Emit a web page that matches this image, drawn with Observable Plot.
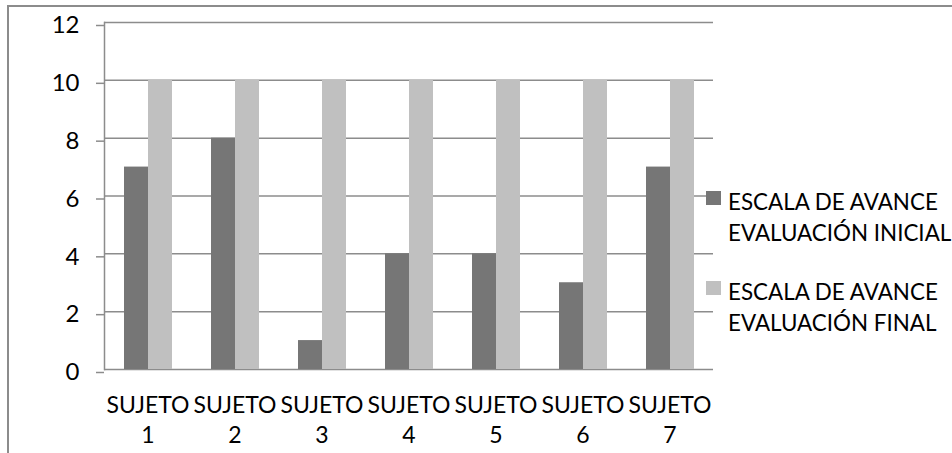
<!DOCTYPE html>
<html><head><meta charset="utf-8">
<script src="https://cdn.jsdelivr.net/npm/d3@7"></script>
<script src="https://cdn.jsdelivr.net/npm/@observablehq/plot@0.6"></script>
<style>
body{margin:0;background:#fff;}
#wrap{position:relative;width:952px;height:453px;overflow:hidden;font-family:Lato,"Open Sans",sans-serif;color:#000;}
#border{position:absolute;left:7px;top:5px;width:1000px;height:1000px;border-left:2px solid #8c8c8c;border-top:2px solid #8c8c8c;}
#chart{position:absolute;left:0;top:0;}
#chart svg{background:transparent;}
.leg{position:absolute;left:706px;white-space:nowrap;}
.leg .sw{position:absolute;left:0;width:15px;height:14px;}
.leg .tx{position:absolute;left:22px;top:0;font-size:22.4px;line-height:31px;}
</style>
</head><body>
<div id="wrap"><div id="border"></div><div id="chart"></div><div id="legend"></div></div>
<script>
const subjects = ["1","2","3","4","5","6","7"];
const subjectPrefix = "SUJETO";
const seriesNames = ["ESCALA DE AVANCE EVALUACIÓN INICIAL","ESCALA DE AVANCE EVALUACIÓN FINAL"];
const legendLines = [["ESCALA DE AVANCE","EVALUACIÓN INICIAL"],["ESCALA DE AVANCE","EVALUACIÓN FINAL"]];
const inicial = [7,8,1,4,4,3,7];
const final = [10,10,10,10,10,10,10];
const yTicks = [0,2,4,6,8,10,12];
const colors = ["#767676","#c0c0c0"];
const gridColor = "#8c8c8c";

const data = [];
subjects.forEach((s,i)=>{
  data.push({subject:s, series:seriesNames[0], value:inicial[i]});
  data.push({subject:s, series:seriesNames[1], value:final[i]});
});

const chart = Plot.plot({
  width:952, height:453,
  marginLeft:102, marginRight:237, marginTop:22, marginBottom:84,
  style:{fontFamily:"Lato, 'Open Sans', sans-serif", background:"transparent", color:"#000"},
  fx:{domain:subjects, paddingInner:0, paddingOuter:0, axis:null, label:null},
  x:{domain:seriesNames, paddingInner:0, paddingOuter:0.77, axis:null, label:null},
  y:{domain:[0,12], axis:null, label:null},
  color:{domain:seriesNames, range:colors},
  marks:[
    Plot.ruleY(yTicks, {stroke:gridColor, strokeWidth:1.5}),
    Plot.frame({anchor:"left", stroke:gridColor, strokeWidth:1.5, facetAnchor:"left"}),
    Plot.axisY({ticks:yTicks, tickSize:8, tickPadding:17, stroke:gridColor, strokeWidth:1.5, strokeOpacity:1, fontSize:24, dy:3, tickFormat:d=>String(d), label:null}),
    Plot.barY(data, {fx:"subject", x:"series", y:"value", fill:"series"}),
    Plot.axisFx({anchor:"bottom", tickSize:0, tickPadding:27, fontSize:23, tickFormat:()=>subjectPrefix, label:null}),
    Plot.axisFx({anchor:"bottom", tickSize:0, tickPadding:57, fontSize:23, tickFormat:d=>d, label:null})
  ]
});
document.getElementById("chart").appendChild(chart);

const legend = document.getElementById("legend");
const legTops = [186, 276];
legendLines.forEach((lines,i)=>{
  const item = document.createElement("div");
  item.className = "leg";
  item.style.top = legTops[i] + "px";
  const sw = document.createElement("div");
  sw.className = "sw";
  sw.style.top = "5px";
  sw.style.background = colors[i];
  const tx = document.createElement("div");
  tx.className = "tx";
  tx.innerHTML = lines.join("<br>");
  item.appendChild(sw); item.appendChild(tx);
  legend.appendChild(item);
});
</script>
</body></html>
